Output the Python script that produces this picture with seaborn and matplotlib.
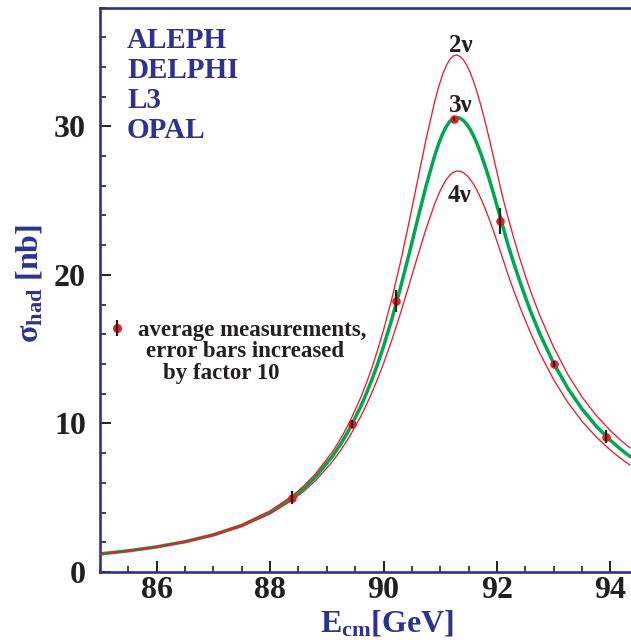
import matplotlib
matplotlib.use("Agg")
import matplotlib.pyplot as plt
import numpy as np
import pandas as pd
import seaborn as sns
from matplotlib.lines import Line2D
from matplotlib.legend_handler import HandlerTuple
from matplotlib.ticker import MultipleLocator

# ---------------- data ----------------
energy = [85.0, 85.5, 86.0, 86.5, 87.0, 87.5, 88.0, 88.4, 88.6, 88.8, 89.1, 89.25,
          89.4, 89.6, 89.7, 89.8, 89.9, 90.0, 90.15, 90.3, 90.45, 90.6, 90.75, 90.9,
          90.98, 91.05, 91.11, 91.17, 91.23, 91.29, 91.35, 91.41, 91.47, 91.53, 91.59,
          91.65, 91.72, 91.8, 91.875, 91.95, 92.1, 92.2, 92.3, 92.4, 92.5, 92.6, 92.75,
          93.0, 93.25, 93.5, 93.75, 94.0, 94.2, 94.35]
xsec_2nu = [1.226, 1.439, 1.710, 2.064, 2.537, 3.187, 4.110, 5.150, 5.814, 6.605,
            8.095, 9.014, 10.078, 11.761, 12.734, 13.807, 14.988, 16.283, 18.446,
            20.881, 23.542, 26.344, 29.122, 31.629, 32.753, 33.567, 34.115, 34.510,
            34.739, 34.80, 34.704, 34.471, 34.104, 33.613, 33.007, 32.300, 31.367,
            30.186, 28.997, 27.756, 25.257, 23.809, 22.436, 21.148, 19.949, 18.838,
            17.329, 15.136, 13.295, 11.789, 10.549, 9.519, 8.817, 8.351]
xsec_3nu = [1.217, 1.426, 1.692, 2.039, 2.501, 3.133, 4.023, 5.018, 5.649, 6.396,
            7.792, 8.644, 9.623, 11.156, 12.033, 12.995, 14.041, 15.183, 17.064,
            19.146, 21.389, 23.710, 25.977, 28.000, 28.905, 29.561, 30.006, 30.333,
            30.533, 30.60, 30.548, 30.392, 30.136, 29.784, 29.344, 28.823, 28.126,
            27.231, 26.317, 25.348, 23.322, 21.966, 20.76, 19.609, 18.52, 17.494,
            16.09, 14.05, 12.37, 10.98, 9.826, 8.866, 8.21, 7.77]
xsec_4nu = [1.203, 1.408, 1.668, 2.006, 2.454, 3.062, 3.913, 4.856, 5.449, 6.146,
            7.437, 8.218, 9.107, 10.486, 11.269, 12.119, 13.039, 14.032, 15.655,
            17.426, 19.309, 21.235, 23.098, 24.758, 25.504, 26.051, 26.430, 26.717,
            26.906, 26.994, 26.981, 26.881, 26.696, 26.431, 26.091, 25.681, 25.123,
            24.397, 23.645, 22.842, 21.137, 19.970, 18.912, 17.906, 16.947, 16.040,
            14.782, 12.954, 11.420, 10.152, 9.095, 8.209, 7.601, 7.193]

meas_energy = [88.38, 89.44, 90.22, 91.24, 92.06, 93.01, 93.92]
meas_xsec = [5.0, 9.97, 18.25, 30.5, 23.6, 14.0, 9.12]
meas_err = [0.45, 0.25, 0.75, 0.15, 0.88, 0.2, 0.45]

curve_labels = ["2ν", "3ν", "4ν"]
experiments = ["ALEPH", "DELPHI", "L3", "OPAL"]
xticks = [86, 88, 90, 92, 94]
yticks = [0, 10, 20, 30]
legend_lines = ["average measurements,", "error bars increased", "by factor 10"]

# ---------------- style ----------------
BLUE = "#2e3192"
RED = "#ed1c24"
GREEN = "#00a651"
INK = "#231f20"

sns.set_theme(style="ticks")
plt.rcParams["font.family"] = ["Liberation Serif", "DejaVu Serif"]
plt.rcParams["font.weight"] = "bold"
plt.rcParams["mathtext.fontset"] = "custom"
plt.rcParams["mathtext.rm"] = "Liberation Serif:bold"
plt.rcParams["mathtext.bf"] = "Liberation Serif:bold"
plt.rcParams["mathtext.it"] = "Liberation Serif:bold:italic"

W, H = 631, 640
fig = plt.figure(figsize=(W / 100, H / 100), dpi=100)
fig.patch.set_facecolor("white")
ax = fig.add_axes([100 / W, 68 / H, 531 / W, 564.5 / H])
ax.set_facecolor("white")

n = len(energy)
curves = pd.DataFrame({
    "E": energy * 3,
    "sigma": xsec_2nu + xsec_3nu + xsec_4nu,
    "model": ["2ν"] * n + ["3ν"] * n + ["4ν"] * n,
})

sns.lineplot(data=curves[curves.model == "3ν"], x="E", y="sigma", ax=ax,
             color=GREEN, linewidth=2.5, sort=False, estimator=None, zorder=2)
for lab in ["2ν", "4ν"]:
    sns.lineplot(data=curves[curves.model == lab], x="E", y="sigma", ax=ax,
                 color=RED, linewidth=0.95, sort=False, estimator=None, zorder=3)

meas = pd.DataFrame({"E": meas_energy, "sigma": meas_xsec, "err": meas_err})
sns.scatterplot(data=meas, x="E", y="sigma", ax=ax, color=RED, s=38,
                edgecolor=RED, linewidth=0, zorder=4)
ax.errorbar(meas["E"], meas["sigma"], yerr=meas["err"], fmt="none",
            ecolor=INK, elinewidth=1.6, capsize=0, zorder=5)

# curve labels
label_pos = {"2ν": (91.37, 34.98), "3ν": (91.37, 30.98), "4ν": (91.34, 24.92)}
for lab in curve_labels:
    x, y = label_pos[lab]
    ax.text(x, y, lab, ha="center", va="baseline", fontsize=18,
            fontweight="bold", color=INK, zorder=6)

# axes
ax.set_xlim(85, 94.365)
ax.set_ylim(0, 38)
ax.set_xticks(xticks)
ax.set_yticks(yticks)
ax.xaxis.set_minor_locator(MultipleLocator(0.5))
ax.yaxis.set_minor_locator(MultipleLocator(2))
ax.tick_params(which="major", direction="in", length=8, width=1.4, color=INK,
               labelsize=23, labelcolor=INK)
ax.tick_params(which="minor", direction="in", length=4.3, width=1.2, color=INK)
ax.tick_params(axis="x", which="major", pad=3)
ax.tick_params(axis="y", which="major", pad=10)
for lbl in ax.get_xticklabels() + ax.get_yticklabels():
    lbl.set_fontweight("bold")
ax.set_xlabel("")
ax.set_ylabel("")
for side in ["left", "bottom", "top"]:
    ax.spines[side].set_color(BLUE)
    ax.spines[side].set_linewidth(1.9)
ax.spines["right"].set_visible(False)

# axis titles
fig.text(387 / W, 1 - 631 / H, r"E$_{\mathrm{cm}}$[GeV]", ha="center", va="baseline",
         fontsize=23, fontweight="bold", color=BLUE)
fig.text(30 / W, 1 - 283 / H, r"σ$_{\mathrm{had}}$ [nb]", ha="center", va="center",
         rotation=90, fontsize=23, fontweight="bold", color=BLUE)

# experiment names
for i, name in enumerate(experiments):
    fig.text(127 / W, 1 - (48 + 30 * i) / H, name, ha="left", va="baseline",
             fontsize=21, fontweight="bold", color=BLUE)

# legend for the measurements
h_dot = Line2D([], [], ls="", marker="o", ms=5.5, color=RED, mec=RED)
h_bar = Line2D([], [], ls="", marker="|", ms=11.5, mew=1.6, color=INK)
leg = ax.legend([(h_dot, h_bar)], [legend_lines[0]],
                handler_map={tuple: HandlerTuple(ndivide=1, pad=0)},
                frameon=False, loc="center left",
                bbox_to_anchor=(110.5 / W, 1 - 330 / H), bbox_transform=fig.transFigure,
                handlelength=0.6, handletextpad=0.6, borderpad=0, borderaxespad=0,
                prop=dict(family="Liberation Serif", weight="bold", size=16.5))
for t in leg.get_texts():
    t.set_color(INK)
fig.text(146 / W, 1 - 357 / H, legend_lines[1], ha="left", va="baseline",
         fontsize=16.5, fontweight="bold", color=INK)
fig.text(163 / W, 1 - 379 / H, legend_lines[2], ha="left", va="baseline",
         fontsize=16.5, fontweight="bold", color=INK)

fig.savefig("out.png", dpi=100, facecolor="white")
